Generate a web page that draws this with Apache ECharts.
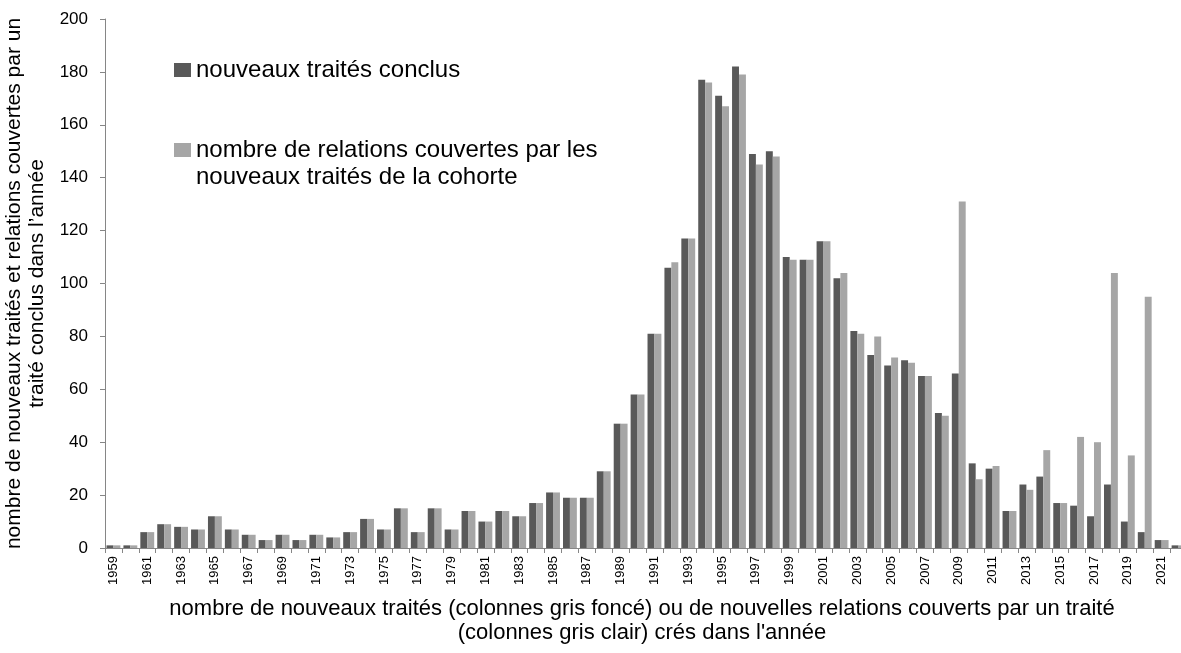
<!DOCTYPE html>
<html>
<head>
<meta charset="utf-8">
<script src="https://cdn.jsdelivr.net/npm/echarts@6/dist/echarts.min.js"></script>
<style>
  html, body { margin: 0; padding: 0; background: #fff; }
  #main-chart { width: 1181px; height: 653px; }
</style>
</head>
<body>
<div id="main-chart"></div>
<script>
// années 1959 - 2022
const years = [];
for (let y = 1959; y <= 2022; y++) years.push(String(y));

const nouveauxTraites = [
  1, 1, 6, 9, 8, 7, 12, 7, 5, 3,
  5, 3, 5, 4, 6, 11, 7, 15, 6, 15,
  7, 14, 10, 14, 12, 17, 21, 19, 19, 29,
  47, 58, 81, 106, 117, 177, 171, 182, 149, 150,
  110, 109, 116, 102, 82, 73, 69, 71, 65, 51,
  66, 32, 30, 14, 24, 27, 17, 16, 12, 24,
  10, 6, 3, 1
];

const relationsCouvertes = [
  1, 1, 6, 9, 8, 7, 12, 7, 5, 3,
  5, 3, 5, 4, 6, 11, 7, 15, 6, 15,
  7, 14, 10, 14, 12, 17, 21, 19, 19, 29,
  47, 58, 81, 108, 117, 176, 167, 179, 145, 148,
  109, 109, 116, 104, 81, 80, 72, 70, 65, 50,
  131, 26, 31, 14, 22, 37, 17, 42, 40, 104,
  35, 95, 3, 1
];

const yTicks = [0, 20, 40, 60, 80, 100, 120, 140, 160, 180, 200];

const nomSerie1 = 'nouveaux traités conclus';
const nomSerie2 = 'nombre de relations couvertes par les';
const nomSerie2Suite = 'nouveaux traités de la cohorte';

const chartDom = document.getElementById('main-chart');
const myChart = echarts.init(chartDom);
const font = 'Liberation Sans';

const legendText = { fontFamily: font, fontSize: 24, color: '#000', lineHeight: 28 };

const option = {
  animation: false,
  textStyle: { fontFamily: font },
  grid: {
    left: 105,
    right: -6,
    top: 19,
    bottom: 105,
    outerBoundsMode: 'none'
  },
  legend: [
    {
      orient: 'vertical',
      left: 174,
      top: 56,
      padding: 0,
      icon: 'rect',
      itemWidth: 17,
      itemHeight: 14,
      itemGap: 0,
      textStyle: legendText,
      data: [nomSerie1]
    },
    {
      orient: 'vertical',
      left: 174,
      top: 136,
      padding: 0,
      icon: 'rect',
      itemWidth: 17,
      itemHeight: 14,
      itemGap: 0,
      textStyle: legendText,
      data: [nomSerie2]
    }
  ],
  graphic: [
    {
      type: 'text',
      left: 196,
      top: 165,
      style: {
        text: nomSerie2Suite,
        font: '24px "Liberation Sans"',
        fill: '#000'
      }
    }
  ],
  xAxis: {
    type: 'category',
    data: years,
    axisLine: { lineStyle: { color: '#868686' } },
    axisTick: { show: true, interval: 0, length: 5, lineStyle: { color: '#868686' } },
    axisLabel: {
      interval: 1,
      rotate: 90,
      fontSize: 13,
      color: '#000',
      margin: 8
    },
    name: "nombre de nouveaux traités (colonnes gris foncé) ou de nouvelles relations couverts par un traité\n(colonnes gris clair) crés dans l'année",
    nameLocation: 'middle',
    nameGap: 49,
    nameTextStyle: { fontSize: 22, color: '#000', lineHeight: 24, padding: [0, 8, 0, 0] }
  },
  yAxis: {
    type: 'value',
    min: yTicks[0],
    max: yTicks[yTicks.length - 1],
    interval: 20,
    splitLine: { show: false },
    axisLine: { show: true, lineStyle: { color: '#868686' } },
    axisTick: { show: true, length: 5, lineStyle: { color: '#868686' } },
    axisLabel: { fontSize: 17, color: '#000', margin: 17 },
    name: "nombre de nouveaux traités et relations couvertes par un\ntraité conclus dans l’année",
    nameLocation: 'middle',
    nameGap: 48,
    nameRotate: 90,
    nameTextStyle: { fontSize: 21, color: '#000', lineHeight: 23 }
  },
  series: [
    {
      name: nomSerie1,
      type: 'bar',
      data: nouveauxTraites,
      barGap: '0%',
      barCategoryGap: '18%',
      itemStyle: { color: '#595959' }
    },
    {
      name: nomSerie2,
      type: 'bar',
      data: relationsCouvertes,
      itemStyle: { color: '#a6a6a6' }
    }
  ]
};

myChart.setOption(option);
</script>
</body>
</html>
